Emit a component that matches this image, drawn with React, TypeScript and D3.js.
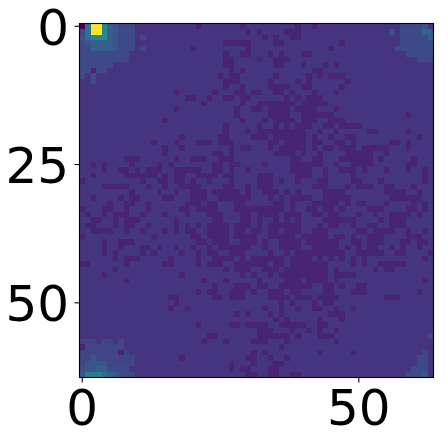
import React from "react";
import * as d3 from "d3";

const GRID_SIZE = 64;
const BASE_VALUE = 0.155;
const DARK_VALUE = 0.1;
const xTicks = [0, 50];
const yTicks = [0, 25, 50];

// For each row, the columns holding the lower count
const darkRows: string[] = [
  "21 29 39 42",
  "30 32 37-39",
  "33 35 38-39",
  "26-30 35-36 47",
  "20 30 45",
  "26 29-30 34 36 40-41",
  "26-27 32 35-37",
  "26-27 35-36 40 44 46",
  "27 29 42-43",
  "25 27-28 35 41 43 45-47",
  "26-28 34 39 41 48",
  "26 29 34-37 40-41 47",
  "17 24 28-29 31 32 35-36 38 42 46",
  "19-20 23 26-27 29-30 37 39 41-43",
  "22 29 32-38 40-44",
  "17 28 31 32 34-37 39-42 46",
  "28 34-37 40-45 59",
  "15 29 33 35-38 40-42 45-47",
  "26 32 35 37 39-41 44-45 47-49 50",
  "26 30 32-40 43 46 52-53 59",
  "18 25-26 31 32-33 35-40 42 45 48-49 61",
  "13 17 21-23 25-27 34-35 37-40 42-43 46-47 49 56-57 59",
  "15 18 27 29-30 34 36-40 42 44-45 47-49 51-55 59",
  "15 24-25 27 35-38 40 43 48-52 55",
  "8-10 17 20-22 25-27 38-39 42-43 47-52 54 60",
  "2 4 9 14 16 24-25 27-28 33 38-43 46 49-52 59-60",
  "4 7-8 10 12-14 17-21 24-25 27 30 38-41 44 47-49 51 55 59 62",
  "2 8-13 15 17-18 21-24 26-27 32-34 39-41 44 49 62",
  "0 11 14-15 17-18 20 23 27 32-34 36 39 43-44 49-50 54 62",
  "4-8 12 15 18-21 26-27 30 32-34 42-44 48 50-52 55-56 60",
  "9 14 17 20-22 24-28 30 33-35 37 39 44-47 55-58 61",
  "2 7 9-10 15-16 20-22 25-30 34 36 38-41 44-48 56-61",
  "5 8-9 12 19-21 23-24 28-29 35-36 38 42-46 48 50-51 55 60 62",
  "0 4-5 8 12 18-19 21-24 28-31 32-36 38 41-42 44-45 47 52-54 59-60 62",
  "1 4 6-8 11 15 19 23-25 29-30 32-35 37-39 42-43 45-46 50 53 56-59 61",
  "2-3 6 8-10 17 24-25 29-30 32 35 37 39 44-49 54 56-58",
  "1-2 6 8-9 12 17 19 21 23-26 28-30 32 34-39 43 45-46 49 52-53 56-58",
  "2-5 8 11 15 17 19-20 23-26 28-29 31 32 34-35 37-39 42-44 50-51 53-56 59 62",
  "0 13 20-21 23-26 28-31 34-38 40-44 46-47 49 52-54 59-61",
  "4 7-9 21-22 24-26 29-31 33 36-39 41-46 49-50 52-54 58-59 61-62",
  "4 7 11-12 14 17 20 23 25-30 33 36-39 42-46 48 50 52-53 56 58 61",
  "4 6 11 13 18 21 23-24 27-29 34 37 39-47 50-54 57-58 63",
  "6 8-10 16 21 24-27 29 31 32-36 38-41 43 45 47 49 51 62",
  "0-1 8 15-16 21 23-25 28-31 32-33 35-36 38-44 49 51 54-58",
  "6 26 28-30 33-35 37-44 46 53 55-56",
  "4 18 29 31 34 36-44 46-49",
  "8 22 26 32 37-39 41-44 46 62",
  "24 28-30 32-33 36-41 44-45 47 50-51",
  "21 23-24 27-29 31 34-36 38-39 44-45 49-51 61",
  "16-17 24-25 27-29 34-37 39-41 43-46 55-57",
  "17 36 38 42 44-45",
  "16 19 33 36 39 42-43 46 49",
  "28 30 34 36 45-47",
  "35 37 43 47",
  "21 27-28 30-31 32-33 36-40 43-44",
  "32-34 38 41 43 46",
  "23-24 32-37 39 43-45",
  "22 26 31 32-33 37 46",
  "36",
  "7 31 33 43 49",
  "18 30-31 34 37",
  "27 31 35-36",
  "27 29-30 34-35",
  "30-31 34-35 38-39",
];

// Corner patches, as one letter per cell; "." leaves the cell as it is
const patchLevels: Record<string, number> = {
  "0": 0, "#": 0.1, b: 0.2, c: 0.22, d: 0.26, e: 0.3, f: 0.36, g: 0.42, h: 0.46, Y: 1,
};
const topLeftPatch = [
  "0fYYhedccc",
  "cfYYhedccc",
  "dfhhhedccc.b",
  "cdeeeedccc",
  "cceeeedccc.b",
  "ccccccccc",
  "ccccccccc",
  "cccccc",
  "cc#cc",
  "c.c",
  "..c",
];
const bottomLeftPatch = [
  "bbb.bb.b",
  "#bbbbbbb",
  "bbbbbbb#b",
  "bbdbbbbbbb",
  "bddddbbbbb",
  "cddeecccc",
  "dgggfedccc",
];
const topRightPatch = [
  "..ccccd",
  "c.ccccee",
  "..ccccce",
  "..cccccc",
  ".ccccccc",
  "...ccccc",
  ".....ccc",
];
const bottomRightPatch = [
  "......b",
  "......",
  "......",
  ".....b",
  "....cc",
  "....cc",
  "...ccc",
  "..cccd",
];

function buildMatrix(): number[][] {
  const m = d3.range(GRID_SIZE).map(() => d3.range(GRID_SIZE).map(() => BASE_VALUE));
  darkRows.forEach((row, r) => {
    row.split(" ").filter(Boolean).forEach((run) => {
      const [a, b] = run.split("-").map(Number);
      for (let c = a; c <= (b ?? a); c++) m[r][c] = DARK_VALUE;
    });
  });
  const stamp = (patch: string[], r0: number, rightAlign: boolean) => {
    patch.forEach((s, i) => {
      const w = Math.max(...patch.map((p) => p.length));
      [...s].forEach((ch, j) => {
        if (ch === ".") return;
        const col = rightAlign ? GRID_SIZE - w + j : j;
        m[r0 + i][col] = patchLevels[ch];
      });
    });
  };
  stamp(topLeftPatch, 0, false);
  stamp(bottomLeftPatch, GRID_SIZE - bottomLeftPatch.length, false);
  stamp(topRightPatch, 0, true);
  stamp(bottomRightPatch, 56, true);
  return m;
}

const LEFT = 79.5;
const RIGHT = 433.5;
const TOP = 23.5;
const BOTTOM = 377.5;

export default function App() {
  const matrix = buildMatrix();
  const domain = d3.range(GRID_SIZE);
  const x = d3.scaleBand<number>().domain(domain).range([LEFT, RIGHT]);
  const y = d3.scaleBand<number>().domain(domain).range([TOP, BOTTOM]);
  const color = d3.scaleSequential(d3.interpolateViridis).domain([0, 1]);
  const font = { fontFamily: "'DejaVu Sans'", fontSize: 50, fill: "#000" };
  return (
    <svg width={448} height={432} style={{ position: "absolute", left: 0, top: 0, background: "#fff" }}>
      <g shapeRendering="crispEdges">
        {matrix.map((row, r) =>
          row.map((v, c) => (
            <rect key={`${r}-${c}`} x={x(c)} y={y(r)} width={x.bandwidth() + 0.5} height={y.bandwidth() + 0.5} fill={color(v)} />
          ))
        )}
      </g>
      <rect x={LEFT} y={TOP} width={RIGHT - LEFT} height={BOTTOM - TOP} fill="none" stroke="#000" strokeWidth={1.1} />
      {xTicks.map((t) => {
        const px = x(t)! + x.bandwidth() / 2;
        return (
          <g key={t}>
            <line x1={px} x2={px} y1={BOTTOM} y2={BOTTOM + 5} stroke="#000" strokeWidth={1.1} />
            <text x={px} y={425} textAnchor="middle" {...font}>{t}</text>
          </g>
        );
      })}
      {yTicks.map((t) => {
        const py = y(t)! + y.bandwidth() / 2;
        return (
          <g key={t}>
            <line x1={LEFT - 5} x2={LEFT} y1={py} y2={py} stroke="#000" strokeWidth={1.1} />
            <text x={69} y={py + 18.5} textAnchor="end" {...font}>{t}</text>
          </g>
        );
      })}
    </svg>
  );
}
